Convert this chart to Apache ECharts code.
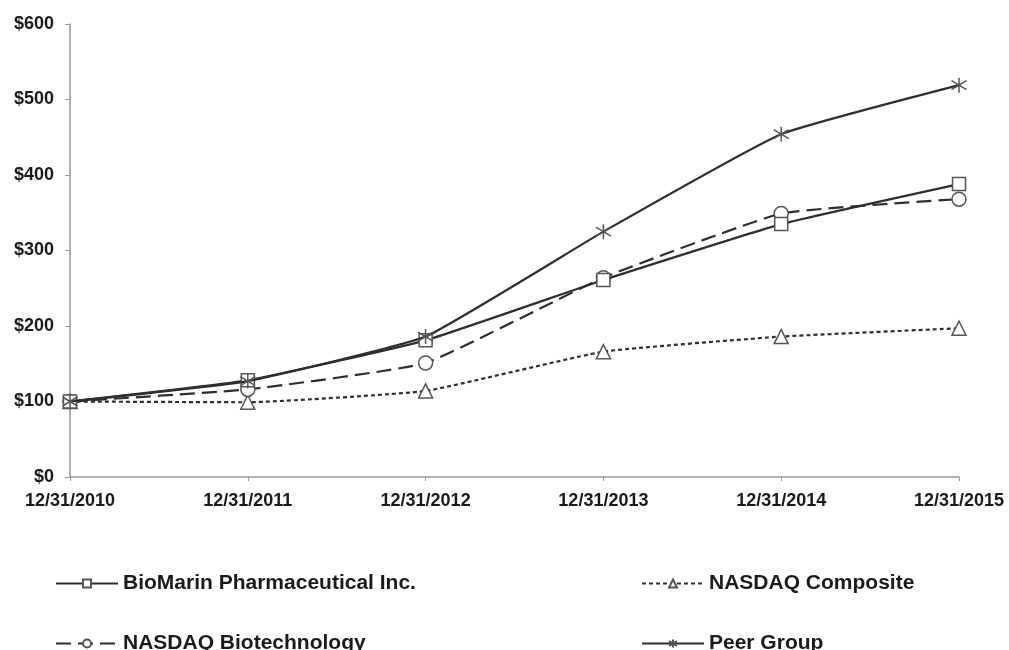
<!DOCTYPE html>
<html>
<head>
<meta charset="utf-8">
<script src="https://cdn.jsdelivr.net/npm/echarts@6/dist/echarts.min.js"></script>
<style>
  html, body { margin: 0; padding: 0; background: #fff; }
  #chart { width: 1009px; height: 650px; }
</style>
</head>
<body>
<div id="chart"></div>
<script>
const categories = ['12/31/2010', '12/31/2011', '12/31/2012', '12/31/2013', '12/31/2014', '12/31/2015'];
const bioMarin = [100, 128, 181, 261, 335, 388];
const nasdaqBiotech = [100, 116, 151, 264, 349, 368];
const nasdaqComposite = [100, 99, 114, 166, 186, 197];
const peerGroup = [100, 127, 186, 325, 454, 519];
const yTicks = [0, 100, 200, 300, 400, 500, 600];
const seriesNames = ['BioMarin Pharmaceutical Inc.', 'NASDAQ Biotechnology', 'NASDAQ Composite', 'Peer Group'];

const FONT = 'Liberation Sans, Arial, sans-serif';
const LINE = '#2e2e2e';
const MARK = '#555555';
const asterisk = 'path://M10,0L10,20M1,4L19,16M1,16L19,4';

function legendItem(name, left, top) {
  return {
    data: [name], orient: 'horizontal', left: left, top: top,
    itemWidth: 62, itemHeight: 10,
    textStyle: { color: '#1a1a1a', fontFamily: FONT, fontWeight: 'bold', fontSize: 21 }
  };
}

const chart = echarts.init(document.getElementById('chart'));
chart.setOption({
  backgroundColor: '#ffffff',
  animation: false,
  grid: { left: 70, right: 50, top: 24, bottom: 173, containLabel: false },
  xAxis: {
    type: 'category',
    data: categories,
    boundaryGap: false,
    axisLine: { lineStyle: { color: '#9a9a9a', width: 1.5 } },
    axisTick: { show: true, length: 4, lineStyle: { color: '#9a9a9a' } },
    axisLabel: { color: '#1a1a1a', fontFamily: FONT, fontWeight: 'bold', fontSize: 18, margin: 15 },
    splitLine: { show: false }
  },
  yAxis: {
    type: 'value',
    min: yTicks[0],
    max: yTicks[yTicks.length - 1],
    interval: 100,
    axisLine: { show: true, lineStyle: { color: '#9a9a9a', width: 1.5 } },
    axisTick: { show: true, length: 5, lineStyle: { color: '#9a9a9a' } },
    axisLabel: { color: '#1a1a1a', fontFamily: FONT, fontWeight: 'bold', fontSize: 18, margin: 16,
      formatter: v => '$' + v },
    splitLine: { show: false }
  },
  legend: [
    legendItem(seriesNames[0], 50, 568),
    legendItem(seriesNames[1], 50, 628),
    legendItem(seriesNames[2], 636, 568),
    legendItem(seriesNames[3], 636, 628)
  ],
  series: [
    {
      name: seriesNames[0], type: 'line', data: bioMarin, smooth: 0.12,
      symbol: 'rect', symbolSize: 13,
      lineStyle: { color: LINE, width: 2.2, type: 'solid' },
      itemStyle: { color: '#ffffff', borderColor: MARK, borderWidth: 1.5 }, z: 4
    },
    {
      name: seriesNames[1], type: 'line', data: nasdaqBiotech, smooth: 0.12,
      symbol: 'circle', symbolSize: 14,
      lineStyle: { color: LINE, width: 2.2, type: [15, 7] },
      itemStyle: { color: '#ffffff', borderColor: MARK, borderWidth: 1.5 }, z: 3
    },
    {
      name: seriesNames[2], type: 'line', data: nasdaqComposite, smooth: 0.12,
      symbol: 'triangle', symbolSize: 14,
      lineStyle: { color: LINE, width: 2.2, type: [4, 3] },
      itemStyle: { color: '#ffffff', borderColor: MARK, borderWidth: 1.5 }, z: 2
    },
    {
      name: seriesNames[3], type: 'line', data: peerGroup, smooth: 0.12,
      symbol: asterisk, symbolSize: 15,
      lineStyle: { color: LINE, width: 2.2, type: 'solid' },
      itemStyle: { color: 'none', borderColor: MARK, borderWidth: 1.5 }, z: 5
    }
  ]
});
</script>
</body>
</html>
